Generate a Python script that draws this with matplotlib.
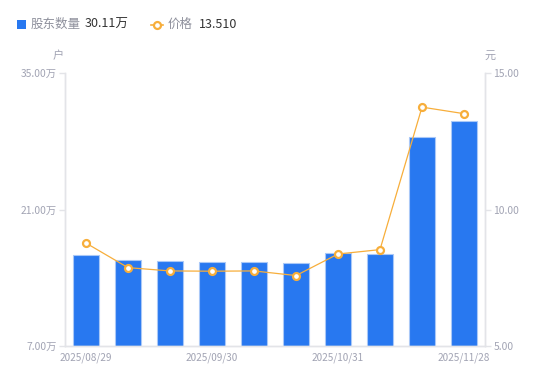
import matplotlib
matplotlib.use("Agg")
import matplotlib.pyplot as plt
from matplotlib.lines import Line2D
from matplotlib.patches import Rectangle

plt.rcParams['font.family'] = ['Noto Sans CJK SC', 'DejaVu Sans']

dates = ["2025/08/29", "2025/09/10", "2025/09/19", "2025/09/30", "2025/10/17",
         "2025/10/24", "2025/10/31", "2025/11/10", "2025/11/20", "2025/11/28"]
holders = [16.33, 15.82, 15.72, 15.58, 15.58, 15.48, 16.54, 16.47, 28.47, 30.11]  # 万户
price = [8.77, 7.87, 7.75, 7.74, 7.75, 7.58, 8.37, 8.53, 13.75, 13.51]
shown_ticks = ["2025/08/29", "2025/09/30", "2025/10/31", "2025/11/28"]
left_ticks = [7, 21, 35]
right_ticks = [5, 10, 15]

BAR = "#2878f0"
BAR_EDGE = "#a9c8f7"
ORANGE = "#f7ae3b"
GRAY = "#a1a3b3"
AXIS = "#e3e4e8"

W, H = 550, 381
fig = plt.figure(figsize=(W / 100, H / 100), dpi=100)
ax = fig.add_axes([65 / W, 35 / H, 420 / W, 273 / H])
ax2 = ax.twinx()

x = list(range(len(dates)))
ax.bar(x, holders, width=0.6, color=BAR, edgecolor=BAR_EDGE, linewidth=0.8, bottom=0,
       zorder=2)
ax.set_xlim(-0.5, len(dates) - 0.5)
ax.set_ylim(7, 35)
ax.set_yticks(left_ticks)
ax.set_yticklabels([f"{v:.2f}万" for v in left_ticks])
ax.set_xticks([dates.index(d) for d in shown_ticks])
ax.set_xticklabels(shown_ticks)

ax2.plot(x, price, color=ORANGE, linewidth=0.9, marker='o', markersize=5,
         markerfacecolor='white', markeredgecolor=ORANGE, markeredgewidth=1.6, zorder=3)
ax2.set_ylim(5, 15)
ax2.set_yticks(right_ticks)
ax2.set_yticklabels([f"{v:.2f}" for v in right_ticks])

for a in (ax, ax2):
    for s in a.spines.values():
        s.set_color(AXIS)
        s.set_linewidth(1)
    a.spines['top'].set_visible(False)
    a.tick_params(axis='y', colors=AXIS, labelcolor=GRAY, labelsize=7.4, length=4, width=1, pad=2)
ax.tick_params(axis='x', length=0, labelcolor=GRAY, labelsize=7.2, pad=5)

fig.text(58 / W, 1 - 56 / H, "户", color=GRAY, fontsize=8, ha='center', va='center')
fig.text(490 / W, 1 - 56 / H, "元", color=GRAY, fontsize=8, ha='center', va='center')

# legend
fig.patches.append(Rectangle((17 / W, 1 - 29 / H), 9 / W, 9 / H, transform=fig.transFigure,
                             facecolor=BAR, edgecolor='none'))
fig.text(31 / W, 1 - 24.5 / H, "股东数量", color="#8e909c", fontsize=9, va='center')
fig.text(85 / W, 1 - 24.5 / H, f"{holders[-1]:.2f}万", color="#333333", fontsize=9, va='center')
fig.lines.append(Line2D([151 / W, 163 / W], [1 - 24.5 / H, 1 - 24.5 / H], transform=fig.transFigure,
                        color=ORANGE, linewidth=1.2))
fig.lines.append(Line2D([157 / W], [1 - 24.5 / H], transform=fig.transFigure,
                        color=ORANGE, marker='o', markersize=5, markerfacecolor='white',
                        markeredgewidth=1.6, linestyle='none'))
fig.text(168 / W, 1 - 24.5 / H, "价格", color="#8e909c", fontsize=9, va='center')
fig.text(199 / W, 1 - 24.5 / H, f"{price[-1]:.3f}", color="#333333", fontsize=9, va='center')

fig.savefig("out.png", dpi=100)
